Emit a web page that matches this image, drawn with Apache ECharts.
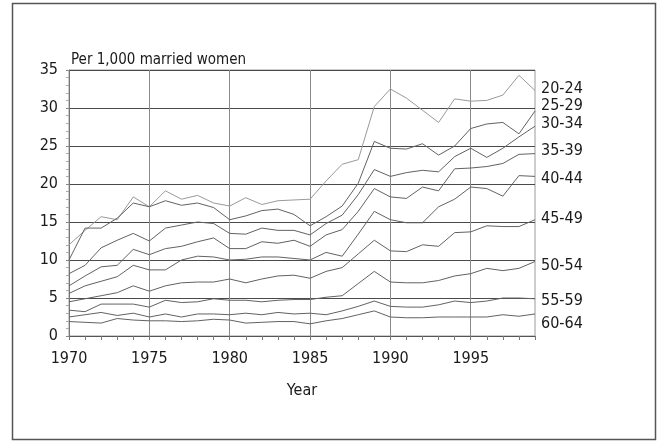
<!DOCTYPE html>
<html>
<head>
<meta charset="utf-8">
<script src="https://cdn.jsdelivr.net/npm/echarts@6/dist/echarts.min.js"></script>
<style>
    html, body { margin: 0; padding: 0; background: #fff; }
    #chart { width: 662px; height: 443px; }
</style>
</head>
<body>
<div id="chart"></div>
<script>
var years = [];
for (var y = 1970; y <= 1999; y++) years.push(String(y));

var ageGroups = ['20-24', '25-29', '30-34', '35-39', '40-44', '45-49', '50-54', '55-59', '60-64'];

var r2024 = [12.0, 13.9, 15.7, 15.3, 18.3, 17.0, 19.1, 18.0, 18.5, 17.5, 17.1, 18.2, 17.3, 17.8, 17.9, 18.0, 20.4, 22.6, 23.2, 30.2, 32.5, 31.3, 29.7, 28.1, 31.2, 30.9, 31.0, 31.7, 34.3, 32.3];
var r2529 = [10.0, 14.2, 14.2, 15.5, 17.5, 17.0, 17.8, 17.2, 17.5, 16.9, 15.3, 15.8, 16.5, 16.7, 16.0, 14.5, 15.7, 17.1, 20.1, 25.6, 24.7, 24.6, 25.3, 23.8, 25.0, 27.3, 27.9, 28.1, 26.6, 29.6];
var r3034 = [8.2, 9.3, 11.6, 12.6, 13.5, 12.5, 14.2, 14.6, 15.0, 14.8, 13.5, 13.4, 14.2, 13.9, 13.9, 13.3, 14.8, 15.9, 18.6, 21.9, 21.0, 21.5, 21.8, 21.6, 23.6, 24.7, 23.5, 24.7, 26.2, 27.6];
var r3539 = [6.6, 7.9, 9.1, 9.3, 11.4, 10.7, 11.5, 11.8, 12.4, 12.9, 11.5, 11.5, 12.4, 12.2, 12.6, 11.8, 13.3, 14.0, 16.4, 19.4, 18.3, 18.1, 19.6, 19.1, 22.0, 22.1, 22.3, 22.7, 23.9, 24.0];
var r4044 = [5.6, 6.6, 7.2, 7.8, 9.3, 8.7, 8.7, 10.0, 10.5, 10.4, 10.0, 10.1, 10.4, 10.4, 10.2, 10.0, 11.0, 10.5, 13.4, 16.4, 15.3, 14.9, 14.9, 17.0, 18.0, 19.6, 19.4, 18.4, 21.1, 21.0];
var r4549 = [4.5, 4.9, 5.3, 5.7, 6.6, 5.9, 6.6, 7.0, 7.1, 7.1, 7.5, 7.0, 7.5, 7.9, 8.0, 7.6, 8.5, 9.0, 10.8, 12.6, 11.2, 11.1, 12.0, 11.8, 13.6, 13.7, 14.5, 14.4, 14.4, 15.3];
var r5054 = [3.4, 3.2, 4.2, 4.2, 4.2, 3.8, 4.7, 4.4, 4.5, 4.9, 4.7, 4.7, 4.5, 4.7, 4.8, 4.8, 5.1, 5.3, 6.9, 8.5, 7.1, 7.0, 7.0, 7.3, 7.9, 8.2, 8.9, 8.6, 8.9, 9.8];
var r5559 = [2.5, 2.8, 3.1, 2.7, 3.0, 2.5, 2.9, 2.5, 2.9, 2.9, 2.8, 3.0, 2.8, 3.1, 2.9, 3.0, 2.8, 3.3, 3.9, 4.6, 3.9, 3.8, 3.8, 4.1, 4.6, 4.4, 4.6, 5.0, 5.0, 4.9];
var r6064 = [1.9, 1.8, 1.7, 2.3, 2.1, 2.0, 2.0, 1.9, 2.0, 2.2, 2.1, 1.7, 1.8, 1.9, 1.9, 1.6, 2.0, 2.3, 2.8, 3.3, 2.5, 2.4, 2.4, 2.5, 2.5, 2.5, 2.5, 2.8, 2.6, 2.9];

var rates = [r2024, r2529, r3034, r3539, r4044, r4549, r5054, r5559, r6064];
var yTicks = [0, 5, 10, 15, 20, 25, 30, 35];

// vertical nudge of the end labels so they don't collide
var labelNudge = [-2, -5, -2, -3, 2, -1, 4, 2, 10];

var font = "'Liberation Sans Narrow', 'DejaVu Sans Condensed', sans-serif";

var myChart = echarts.init(document.getElementById('chart'));

var series = [];
for (var i = 0; i < ageGroups.length; i++) {
    var col = i === 0 ? '#9a9a9a' : '#626262';
    series.push({
        name: ageGroups[i],
        type: 'line',
        data: rates[i],
        symbol: 'none',
        silent: true,
        lineStyle: { color: col, width: 1 },
        itemStyle: { color: col },
        endLabel: {
            show: true,
            formatter: '{a}',
            distance: 6,
            offset: [0, labelNudge[i]],
            color: '#1a1a1a',
            fontSize: 16,
            fontFamily: font
        }
    });
}

var option = {
    backgroundColor: '#fff',
    animation: false,
    title: {
        text: 'Per 1,000 married women',
        left: 66,
        top: 48,
        textStyle: { color: '#1a1a1a', fontSize: 15, fontWeight: 'normal', fontFamily: font }
    },
    grid: {
        left: 69,
        right: 127,
        top: 70,
        bottom: 107,
        show: true,
        borderColor: '#9a9a9a',
        borderWidth: 1
    },
    xAxis: {
        type: 'category',
        data: years,
        boundaryGap: false,
        name: 'Year',
        nameLocation: 'middle',
        nameGap: 47,
        nameTextStyle: { color: '#1a1a1a', fontSize: 16, fontFamily: font },
        axisLine: { lineStyle: { color: '#555', width: 1 } },
        axisTick: { show: true, interval: 0, length: 4, lineStyle: { color: '#777' } },
        axisLabel: {
            interval: 4,
            margin: 15,
            color: '#1a1a1a',
            fontSize: 16,
            fontFamily: font
        },
        splitLine: {
            show: true,
            interval: 4,
            lineStyle: { color: '#8a8a8a', width: 1 }
        }
    },
    yAxis: {
        type: 'value',
        min: yTicks[0],
        max: yTicks[yTicks.length - 1],
        interval: 5,
        axisLine: { show: true, lineStyle: { color: '#777', width: 1 } },
        axisTick: { show: true, length: 3, lineStyle: { color: '#888' } },
        minorTick: { show: true, splitNumber: 5, length: 3, lineStyle: { color: '#aaa' } },
        axisLabel: {
            margin: 11,
            color: '#1a1a1a',
            fontSize: 16,
            fontFamily: font
        },
        splitLine: { show: true, lineStyle: { color: '#4a4a4a', width: 1 } }
    },
    graphic: [{
        type: 'rect',
        shape: { x: 12.5, y: 3.5, width: 643, height: 436 },
        style: { fill: 'none', stroke: '#555', lineWidth: 1.5 },
        silent: true
    }],
    series: series
};

myChart.setOption(option);
</script>
</body>
</html>
